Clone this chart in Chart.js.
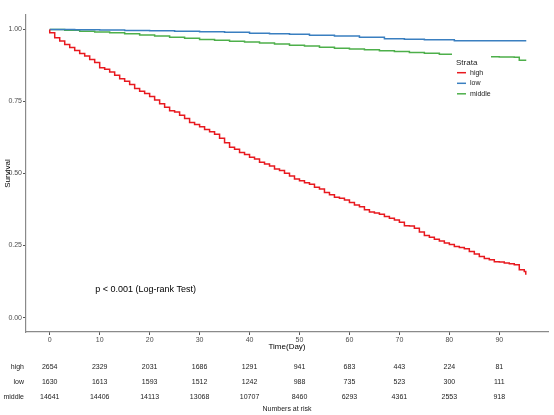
<!DOCTYPE html>
<html>
<head>
<meta charset="utf-8">
<script src="https://cdn.jsdelivr.net/npm/chart.js@4.4.0/dist/chart.umd.min.js"></script>
<style>
html, body { margin: 0; padding: 0; background: #fff; }
#wrap { width: 554px; height: 415px; position: relative; }
</style>
</head>
<body>
<div id="wrap"><canvas id="km"></canvas></div>
<script>
// survival curves (Kaplan-Meier)
var highTimes = [0, 0, 1, 2, 3, 4, 5, 6, 7, 8, 9, 10, 11, 12, 13, 14, 15, 16, 17, 18, 19,
  20, 21, 22, 23, 24, 25, 26, 27, 28, 29, 30, 31, 32, 33, 34, 35, 36, 37, 38, 39,
  40, 41, 42, 43, 44, 45, 46, 47, 48, 49, 50, 51, 52, 53, 54, 55, 56, 57, 58, 59,
  60, 61, 62, 63, 64, 65, 66, 67, 68, 69, 70, 71, 72, 73, 74, 75, 76, 77, 78, 79,
  80, 81, 82, 83, 84, 85, 86, 87, 88, 89, 90, 91, 92, 93, 94, 95, 95.3];
var highSurv = [1.0, 0.988, 0.971, 0.960, 0.948, 0.937, 0.927, 0.916, 0.908, 0.896, 0.885,
  0.867, 0.862, 0.852, 0.841, 0.829, 0.820, 0.809, 0.795, 0.785, 0.778,
  0.767, 0.755, 0.742, 0.730, 0.718, 0.713, 0.702, 0.691, 0.677, 0.670,
  0.662, 0.653, 0.645, 0.636, 0.622, 0.607, 0.591, 0.584, 0.573, 0.566,
  0.556, 0.550, 0.539, 0.533, 0.526, 0.516, 0.510, 0.501, 0.491, 0.481,
  0.475, 0.468, 0.463, 0.452, 0.446, 0.434, 0.426, 0.418, 0.414, 0.408,
  0.399, 0.391, 0.385, 0.374, 0.366, 0.363, 0.359, 0.351, 0.345, 0.339,
  0.331, 0.319, 0.318, 0.310, 0.297, 0.285, 0.279, 0.272, 0.266, 0.259,
  0.254, 0.247, 0.243, 0.239, 0.229, 0.221, 0.212, 0.205, 0.201, 0.194,
  0.193, 0.189, 0.187, 0.183, 0.166, 0.160, 0.149];

var lowTimes = [0, 5, 10, 15, 20, 25, 30, 35, 40, 44, 48, 52, 57, 62, 67, 71, 75, 81, 95.4];
var lowSurv = [1.0, 0.999, 0.998, 0.996, 0.995, 0.994, 0.992, 0.990, 0.987, 0.985,
  0.983, 0.980, 0.977, 0.973, 0.968, 0.966, 0.964, 0.961, 0.961];

var midTimes = [0, 3, 6, 9, 12, 15, 18, 21, 24, 27, 30, 33, 36, 39, 42, 45, 48, 51, 54, 57,
  60, 63, 66, 69, 72, 75, 78, 81, 84, 87, 90, 93, 94, 95.4];
var midSurv = [1.0, 0.997, 0.994, 0.991, 0.988, 0.985, 0.981, 0.977, 0.973, 0.969,
  0.965, 0.962, 0.959, 0.956, 0.953, 0.949, 0.945, 0.942, 0.938, 0.935,
  0.932, 0.929, 0.926, 0.923, 0.920, 0.917, 0.914, 0.911, 0.908, 0.905,
  0.904, 0.903, 0.893, 0.893];

// numbers at risk table
var riskTimes = [0, 10, 20, 30, 40, 50, 60, 70, 80, 90];
var riskHigh = [2654, 2329, 2031, 1686, 1291, 941, 683, 443, 224, 81];
var riskLow = [1630, 1613, 1593, 1512, 1242, 988, 735, 523, 300, 111];
var riskMiddle = [14641, 14406, 14113, 13068, 10707, 8460, 6293, 4361, 2553, 918];

var strata = ['high', 'low', 'middle'];
var strataColors = ['#E8191F', '#3A7FC0', '#4DAF4A'];

var FONT = "'Liberation Sans', Arial, sans-serif";
Chart.defaults.font.family = FONT;

function toPoints(xs, ys) {
    var pts = [];
    for (var i = 0; i < xs.length; i++) {
        pts.push({x: xs[i], y: ys[i]});
    }
    return pts;
}

var extrasPlugin = {
    id: 'extras',
    afterDatasetsDraw: function (chart) {
        // legend box sits on top of the curves, like ggplot does
        var ctx = chart.ctx;
        ctx.save();
        ctx.fillStyle = '#fff';
        ctx.fillRect(452, 53, 39, 48);
        ctx.fillStyle = '#222';
        ctx.font = '8px ' + FONT;
        ctx.textAlign = 'left';
        ctx.textBaseline = 'middle';
        ctx.fillText('Strata', 456, 62.5);
        ctx.font = '7px ' + FONT;
        var ys = [72.7, 83.3, 93.8];
        for (var i = 0; i < strata.length; i++) {
            ctx.strokeStyle = strataColors[i];
            ctx.lineWidth = 1.5;
            ctx.beginPath();
            ctx.moveTo(457, ys[i]);
            ctx.lineTo(466, ys[i]);
            ctx.stroke();
            ctx.fillStyle = '#222';
            ctx.fillText(strata[i], 470, ys[i]);
        }
        ctx.restore();
    },
    afterDraw: function (chart) {
        var ctx = chart.ctx;
        var xs = chart.scales.x;
        var ysc = chart.scales.y;
        ctx.save();
        ctx.fillStyle = '#000';
        ctx.textBaseline = 'middle';

        // p value
        ctx.font = '9px ' + FONT;
        ctx.textAlign = 'left';
        ctx.fillText('p < 0.001 (Log-rank Test)', xs.getPixelForValue(9.1), ysc.getPixelForValue(0.097));

        // axis titles
        ctx.font = '8px ' + FONT;
        ctx.textAlign = 'center';
        var midX = (chart.chartArea.left + chart.chartArea.right) / 2;
        ctx.fillText('Time(Day)', midX, 346.5);
        ctx.save();
        ctx.translate(8, (chart.chartArea.top + chart.chartArea.bottom) / 2);
        ctx.rotate(-Math.PI / 2);
        ctx.fillText('Survival', 0, 0);
        ctx.restore();

        // risk table
        var rows = [riskHigh, riskLow, riskMiddle];
        var rowY = [367, 382, 397];
        ctx.font = '7px ' + FONT;
        for (var r = 0; r < rows.length; r++) {
            ctx.textAlign = 'right';
            ctx.fillStyle = '#222';
            ctx.fillText(strata[r], 24, rowY[r]);
            ctx.textAlign = 'center';
            for (var i = 0; i < riskTimes.length; i++) {
                ctx.fillText(String(rows[r][i]), xs.getPixelForValue(riskTimes[i]), rowY[r]);
            }
        }
        ctx.fillText('Numbers at risk', midX, 409);
        ctx.restore();
    }
};

var config = {
    type: 'line',
    data: {
        datasets: [
            {label: 'high', data: toPoints(highTimes, highSurv), borderColor: strataColors[0]},
            {label: 'low', data: toPoints(lowTimes, lowSurv), borderColor: strataColors[1]},
            {label: 'middle', data: toPoints(midTimes, midSurv), borderColor: strataColors[2]}
        ]
    },
    options: {
        responsive: true,
        maintainAspectRatio: false,
        animation: false,
        parsing: false,
        datasets: {
            line: {stepped: true, pointRadius: 0, borderWidth: 1.5, fill: false, tension: 0}
        },
        layout: {padding: {top: 15, right: 6, left: 0, bottom: 0}},
        plugins: {
            legend: {display: false},
            tooltip: {enabled: false}
        },
        scales: {
            x: {
                type: 'linear',
                min: -4.75,
                max: 99.75,
                afterFit: function (scale) { scale.height = 83; },
                afterBuildTicks: function (scale) {
                    scale.ticks = riskTimes.map(function (v) { return {value: v}; });
                },
                ticks: {color: '#4d4d4d', font: {size: 7}, padding: 1, maxRotation: 0},
                grid: {display: true, drawOnChartArea: false, tickLength: 3, color: '#555'},
                border: {display: true, color: '#8a8a8a', width: 1.2}
            },
            y: {
                type: 'linear',
                min: -0.05,
                max: 1.05,
                afterFit: function (scale) { scale.width = 26; },
                afterBuildTicks: function (scale) {
                    scale.ticks = [0, 0.25, 0.5, 0.75, 1].map(function (v) { return {value: v}; });
                },
                ticks: {
                    color: '#4d4d4d', font: {size: 7}, padding: 1,
                    callback: function (v) { return v.toFixed(2); }
                },
                grid: {display: true, drawOnChartArea: false, tickLength: 3, color: '#555'},
                border: {display: true, color: '#8a8a8a', width: 1.2}
            }
        }
    },
    plugins: [extrasPlugin]
};

var kmChart = new Chart(document.getElementById('km').getContext('2d'), config);
</script>
</body>
</html>
